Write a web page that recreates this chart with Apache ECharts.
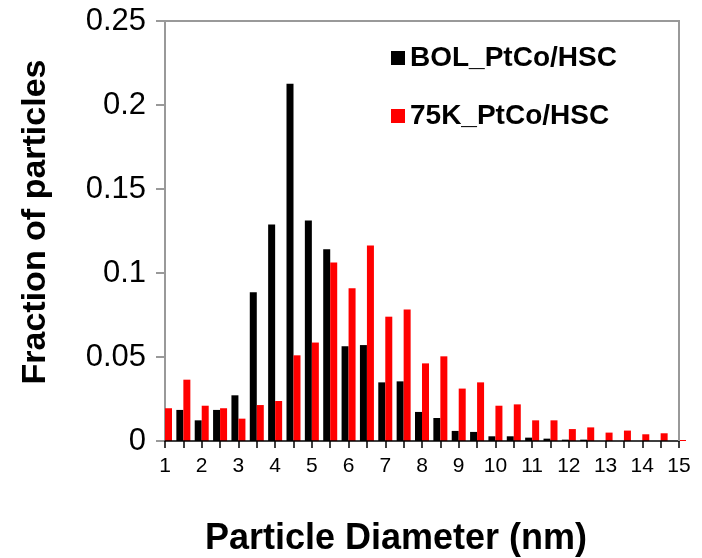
<!DOCTYPE html>
<html>
<head>
<meta charset="utf-8">
<script src="https://cdn.jsdelivr.net/npm/echarts@6/dist/echarts.min.js"></script>
<style>
html,body{margin:0;padding:0;background:#fff;}
#wrap{position:relative;width:702px;height:558px;}
#c{width:702px;height:558px;}
#frame{position:absolute;left:165px;top:20px;width:515px;height:421px;box-sizing:border-box;
  border-top:2px solid #999;border-right:2px solid #999;pointer-events:none;}
</style>
</head>
<body>
<div id="wrap"><div id="c"></div><div id="frame"></div></div>
<script>
var diameters = [1,1.5,2,2.5,3,3.5,4,4.5,5,5.5,6,6.5,7,7.5,8,8.5,9,9.5,10,10.5,11,11.5,12,12.5,13,13.5,14,14.5,15];
var bolFraction = [0,0.0185,0.0123,0.0185,0.0272,0.0885,0.1288,0.2127,0.1312,0.1141,0.0564,0.0571,0.0349,0.0355,0.0173,0.0137,0.006,0.0054,0.0028,0.0028,0.002,0.0014,0.0008,0.0008,0,0,0,0,0];
var k75Fraction = [0.0195,0.0365,0.021,0.0195,0.0133,0.0214,0.0238,0.051,0.0586,0.1062,0.0909,0.1163,0.074,0.0782,0.0462,0.0504,0.0312,0.0349,0.021,0.0218,0.0123,0.0123,0.0071,0.0081,0.005,0.0062,0.004,0.0046,0.0026];
var seriesNames = ['BOL_PtCo/HSC','75K_PtCo/HSC'];

var FONT = '"Liberation Sans", Arial, sans-serif';
var W = 702, H = 558;
var GRID = {left:165,right:23,top:21,bottom:117};
var gx1 = W - GRID.right, gy1 = H - GRID.bottom;
var chart = echarts.init(document.getElementById('c'), null, {renderer:'canvas'});
chart.setOption({
  animation:false,
  backgroundColor:'#fff',
  grid:{left:GRID.left,right:GRID.right,top:GRID.top,bottom:GRID.bottom,containLabel:false,outerBoundsMode:'none'},
  legend:{
    orient:'vertical', left:386, top:38,
    itemWidth:14, itemHeight:14, itemGap:28, itemTextGap:8,
    icon:'rect',
    textStyle:{fontFamily:FONT,fontWeight:'bold',fontSize:28,color:'#000',lineHeight:30},
    data:seriesNames
  },
  xAxis:{
    type:'value', min:1, max:15, interval:0.5,
    name:'Particle Diameter (nm)', nameLocation:'middle', nameGap:80,
    nameTextStyle:{fontFamily:FONT,fontWeight:'bold',fontSize:36,color:'#000',padding:[0,52,0,0]},
    axisLine:{show:true,onZero:false,lineStyle:{color:'#000',width:1.5}},
    axisTick:{show:true,length:7,lineStyle:{color:'#000',width:1.5}},
    axisLabel:{margin:15,fontFamily:FONT,fontSize:21,color:'#000',
      formatter:function(v){return Math.abs(v-Math.round(v))<1e-6 ? String(Math.round(v)) : '';}},
    splitLine:{show:false},
    z:3
  },
  yAxis:{
    type:'value', min:0, max:0.25, interval:0.05,
    name:'Fraction of particles', nameLocation:'middle', nameGap:112, nameRotate:90,
    nameTextStyle:{fontFamily:FONT,fontWeight:'bold',fontSize:34,color:'#000',padding:[0,0,0,18]},
    axisLine:{show:true,onZero:false,lineStyle:{color:'#999',width:2}},
    axisTick:{show:true,length:9,lineStyle:{color:'#999',width:2}},
    axisLabel:{margin:19,fontFamily:FONT,fontSize:31,color:'#000'},
    splitLine:{show:false}
  },
  graphic:{
    elements:[{
      type:'rect', z:100, silent:true,
      shape:{x:gx1+1, y:0, width:GRID.right, height:gy1-1},
      style:{fill:'#ffffff'}
    }]
  },
  series:[
    {name:seriesNames[0],type:'bar',barWidth:7,barGap:'0%',clip:true,itemStyle:{color:'#000000'},
     data:diameters.map(function(d,i){return [d,bolFraction[i]];})},
    {name:seriesNames[1],type:'bar',barWidth:7,barGap:'0%',clip:true,itemStyle:{color:'#FF0000'},
     data:diameters.map(function(d,i){return [d,k75Fraction[i]];})}
  ]
});
</script>
</body>
</html>
